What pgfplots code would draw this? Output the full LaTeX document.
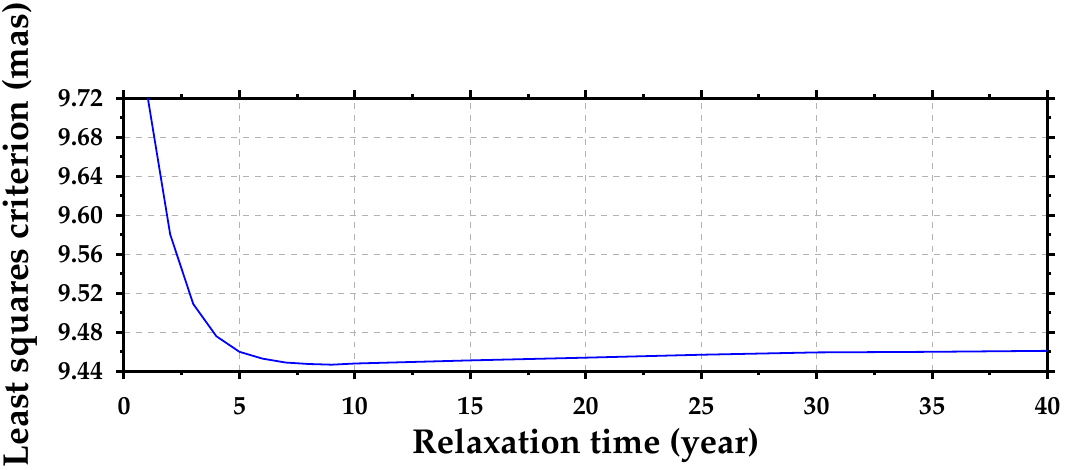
\documentclass[border=0pt]{standalone}
\usepackage[T1]{fontenc}
\usepackage{mathpazo}
\usepackage{pgfplots}
\pgfplotsset{compat=1.18}
\begin{document}
\begin{tikzpicture}
\begin{axis}[
  scale only axis,
  width=465pt, height=137.5pt,
  xmin=0, xmax=40, ymin=9.44, ymax=9.72,
  xtick={0,5,...,40},
  ytick={9.44,9.48,...,9.72},
  minor x tick num=1, minor y tick num=1,
  tick align=outside,
  major tick length=4pt, minor tick length=2pt,
  every tick/.style={black, line width=1.5pt},
  axis line style={line width=1.5pt},
  grid=major,
  major grid style={gray!60, dashed, line width=0.4pt},
  /pgf/number format/assume math mode=true,
  /pgf/number format/fixed, /pgf/number format/fixed zerofill,
  yticklabel style={/pgf/number format/precision=2, xshift=-3pt},
  xticklabel style={/pgf/number format/precision=0, yshift=-5.5pt},
  ticklabel style={font=\bfseries\fontsize{13}{15}\selectfont},
  xlabel={Relaxation time (year)},
  ylabel={Least squares criterion (mas)},
  xlabel style={font=\bfseries\fontsize{17.4}{19}\selectfont, inner sep=1pt, yshift=-2.5pt},
  ylabel style={font=\bfseries\fontsize{18}{20}\selectfont, inner sep=1pt, yshift=6pt},
  clip=true,
]
\addplot[blue, line width=0.9pt] coordinates {
(1,9.725) (2,9.5805) (3,9.509) (4,9.476) (5,9.460) (6,9.453) (7,9.449) (8,9.4475) (9,9.4468) (10,9.448)
(15,9.4512) (20,9.454) (25,9.457) (30,9.4594) (35,9.460) (40,9.461)
};
\end{axis}
\end{tikzpicture}
\end{document}
